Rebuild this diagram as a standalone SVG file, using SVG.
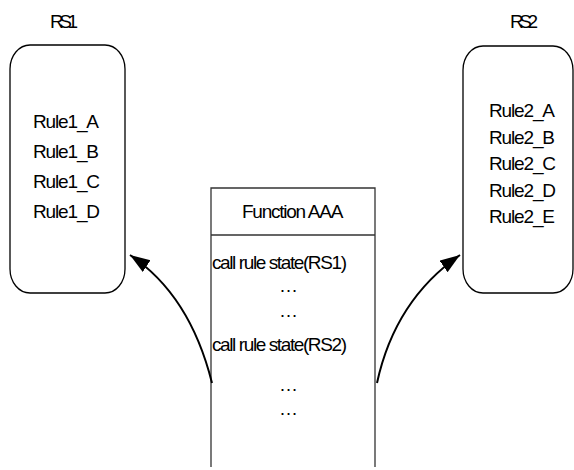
<svg xmlns="http://www.w3.org/2000/svg" width="574" height="470" viewBox="0 0 574 470">
<style>
text{font-family:"Liberation Sans",Arial,sans-serif;font-size:19px;fill:#000;}
.rs{letter-spacing:-4.5px;}
.rule{letter-spacing:-1.15px;}
.fn{letter-spacing:-1.4px;}
.ttl{letter-spacing:-1.25px;}
.box{fill:#fff;stroke:#000;stroke-width:1.3;}
.fbox{fill:none;stroke:#333;stroke-width:1.3;}
.conn{fill:none;stroke:#000;stroke-width:2;}
</style>
<defs>
<marker id="ah" markerUnits="userSpaceOnUse" markerWidth="22" markerHeight="16" refX="20" refY="7" orient="auto">
<path d="M0,0 L20,7 L0,14 z" fill="#000"/>
</marker>
</defs>
<rect width="574" height="470" fill="#fff"/>
<g id="rs1">
<text class="rs" x="50" y="28">RS1</text>
<rect class="box" x="10" y="45" width="115" height="248" rx="20" ry="24"/>
<text class="rule" x="33" y="128">Rule1_A</text>
<text class="rule" x="33" y="158">Rule1_B</text>
<text class="rule" x="33" y="188">Rule1_C</text>
<text class="rule" x="33" y="218">Rule1_D</text>
</g>
<g id="rs2">
<text class="rs" x="510" y="28">RS2</text>
<rect class="box" x="463" y="46" width="110" height="247" rx="20" ry="24"/>
<text class="rule" x="489" y="117">Rule2_A</text>
<text class="rule" x="489" y="143.5">Rule2_B</text>
<text class="rule" x="489" y="170">Rule2_C</text>
<text class="rule" x="489" y="196.5">Rule2_D</text>
<text class="rule" x="489" y="223">Rule2_E</text>
</g>
<g id="function-aaa">
<path class="fbox" d="M211,467 V188 H375 V467 M211,235 H375"/>
<text class="ttl" x="242" y="218">Function AAA</text>
<text class="fn" x="212" y="269">call rule state(RS1)</text>
<text x="279" y="292">…</text>
<text x="279" y="317">…</text>
<text class="fn" x="212" y="351">call rule state(RS2)</text>
<text x="279" y="391">…</text>
<text x="279" y="415">…</text>
</g>
<g id="connectors">
<path class="conn" d="M212,383 Q190,295 130,255" marker-end="url(#ah)"/>
<path class="conn" d="M377,383 Q395,300 460,255" marker-end="url(#ah)"/>
</g>
</svg>
